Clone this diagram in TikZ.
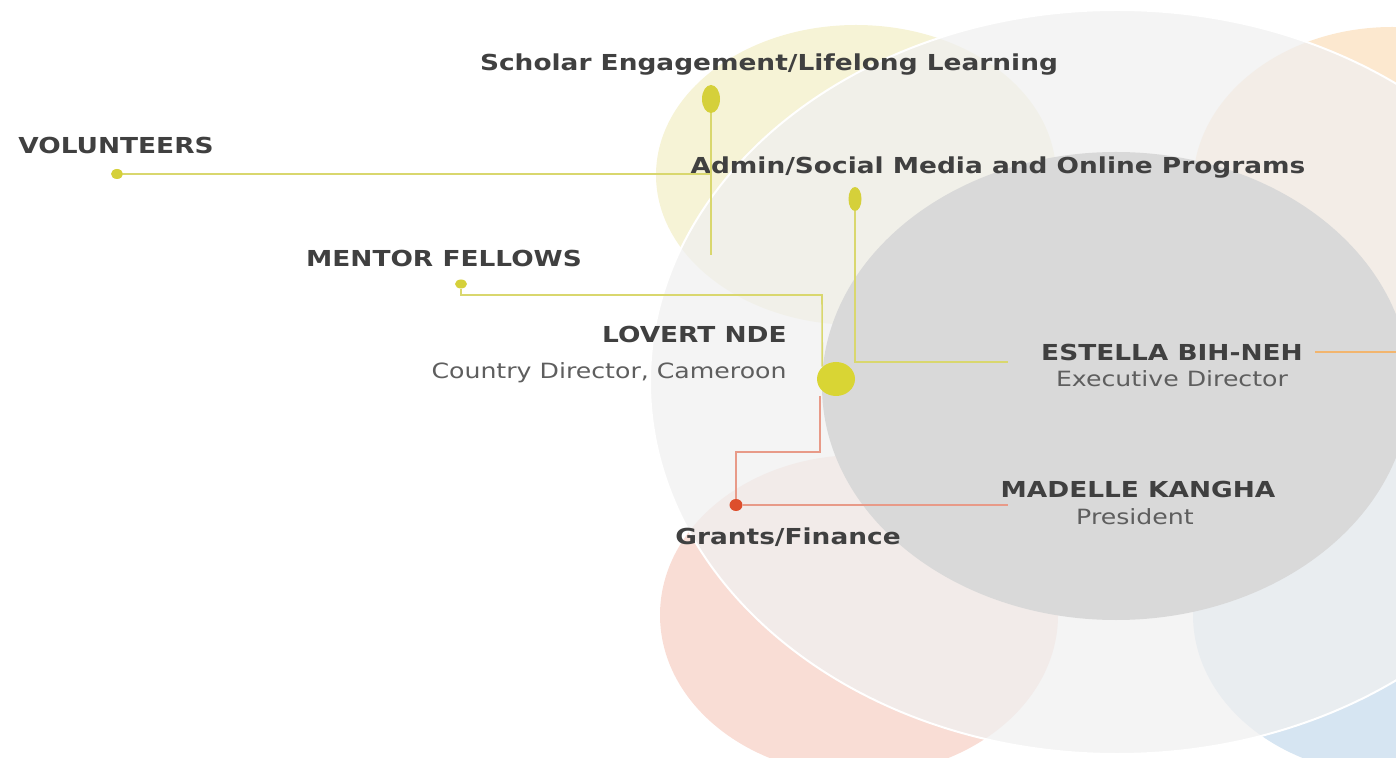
\documentclass[tikz,border=0pt]{standalone}
\usepackage{fontspec}
\setmainfont{DejaVu Sans}[FakeStretch=1.2]
\usetikzlibrary{shapes.geometric}

\definecolor{yellowfill}{HTML}{F6F3D6}
\definecolor{orangefill}{HTML}{FCE8CF}
\definecolor{pinkfill}{HTML}{F9DDD5}
\definecolor{bluefill}{HTML}{D6E5F2}
\definecolor{bigfill}{HTML}{F0F0F0}
\definecolor{greyfill}{HTML}{D9D9D9}
\definecolor{dotyellow}{HTML}{D5D03A}
\definecolor{lineyellow}{HTML}{D9D76E}
\definecolor{dotred}{HTML}{DD4E2C}
\definecolor{linered}{HTML}{E89A88}
\definecolor{lineorange}{HTML}{F2B56E}
\definecolor{textdark}{HTML}{404040}
\definecolor{textgrey}{HTML}{5E5E5E}

\begin{document}
\begin{tikzpicture}[
        x                   = 0.5pt,
        y                   = -0.5pt,
        head/.style         = {text=textdark, inner sep=0pt, font=\bfseries\fontsize{11}{13}\selectfont},
        role/.style         = {text=textgrey, inner sep=0pt, font=\fontsize{10.5}{12}\selectfont},
        dot/.style          = {ellipse, inner sep=0pt, fill=dotyellow},
        yline/.style        = {draw=lineyellow, line width=0.8pt},
        rline/.style        = {draw=linered, line width=0.8pt},
        %oline
      ]
    \useasboundingbox (0,0) rectangle (1396,758);
    \clip (0,0) rectangle (1396,758);

    % circles
    \fill[yellowfill] (856,175) ellipse [x radius=200, y radius=150];
    \fill[orangefill] (1392,185) ellipse [x radius=199, y radius=158];
    \fill[pinkfill] (859,615) ellipse [x radius=199, y radius=160];
    \fill[bluefill] (1392,615) ellipse [x radius=199, y radius=160];
    \draw[white, line width=1pt, fill=bigfill, fill opacity=0.75] (1117,382) ellipse [x radius=467, y radius=372];
    \fill[greyfill] (1116,386) ellipse [x radius=294, y radius=234];

    % labels
    \node[head] (scholar)     at (769,65)  {Scholar Engagement/Lifelong Learning};
    \node[head] (volunteers)  at (116,145) {VOLUNTEERS};
    \node[head] (admin)       at (998,168) {Admin/Social Media and Online Programs};
    \node[head] (mentor)      at (444,258) {MENTOR FELLOWS};
    \node[head, anchor=east] (lovert)     at (787,334) {LOVERT NDE};
    \node[role, anchor=east] (lovertrole) at (787,373) {Country Director, Cameroon};
    \node[head] (estella)     at (1172,352) {ESTELLA BIH-NEH};
    \node[role] (estellarole) at (1172,379) {Executive Director};
    \node[head] (madelle)     at (1138,489) {MADELLE KANGHA};
    \node[role] (madellerole) at (1135,517) {President};
    \node[head] (grants)      at (788,537) {Grants/Finance};

    % dots
    \node[dot, minimum width=9pt, minimum height=14pt] (scholardot) at (711,99) {};
    \node[dot, minimum width=6pt, minimum height=5pt] (voldot) at (117,174) {};
    \node[dot, minimum width=6.5pt, minimum height=12pt] (admindot) at (855,199) {};
    \node[dot, minimum width=6pt, minimum height=4.5pt] (mentordot) at (461,284) {};
    \node[dot, minimum width=19pt, minimum height=17pt, fill=dotyellow!90!yellow] (lovertdot) at (836,379) {};
    \node[dot, minimum width=6.5pt, minimum height=6pt, fill=dotred] (grantsdot) at (736,505) {};

    \coordinate (scholarend) at (711,255);
    \coordinate (mentorbend) at (822,295);
    \coordinate (adminend)   at (1008,362);
    \coordinate (grantsbend) at (820,452);
    \coordinate (grantsend)  at (1008,505);
    \coordinate (estellaout) at (1396,352);

    % connectors
    \draw[yline] (scholardot.south) -- (scholarend);
    \draw[yline] (voldot.east) -- (voldot.east -| scholarend);
    \draw[yline] (mentordot.south) |- (mentorbend) -- (lovertdot.north west);
    \draw[yline] (admindot.south) |- (adminend);
    \draw[rline] (lovertdot.south -| grantsbend) -- (grantsbend) -| (grantsdot.north);
    \draw[rline] (grantsdot.east) -- (grantsend);
    \draw[draw=lineorange, line width=0.8pt] ([xshift=6pt]estella.east) -- (estellaout);
\end{tikzpicture}
\end{document}
